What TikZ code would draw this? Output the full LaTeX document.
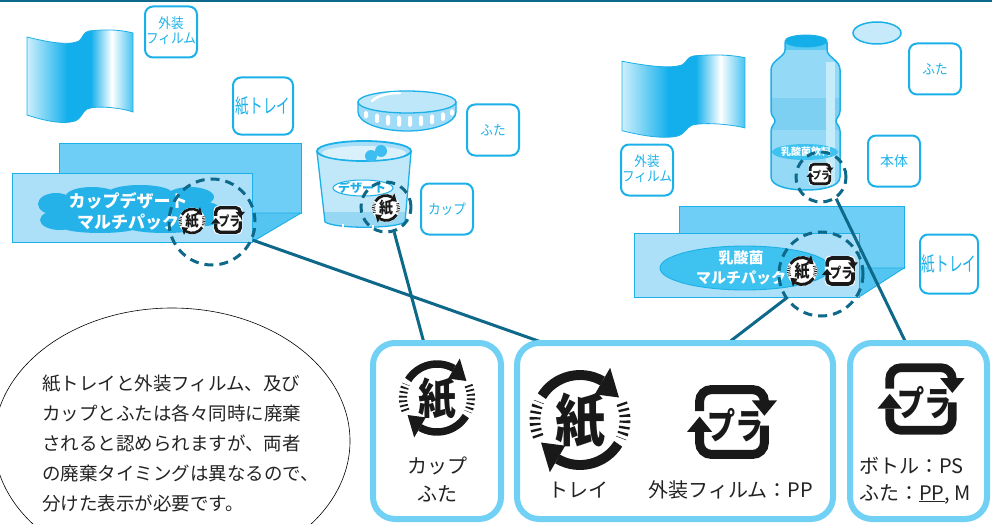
\documentclass[tikz,border=0pt]{standalone}
\usepackage{fontspec}
\usepackage{graphicx}
\setmainfont{Noto Sans CJK JP}
\usetikzlibrary{shapes.geometric}

\definecolor{lineteal}{RGB}{14,104,138}
\definecolor{labcyan}{RGB}{28,176,232}
\definecolor{boxcyan}{RGB}{112,209,245}
\definecolor{trayback}{RGB}{110,206,245}
\definecolor{trayfront}{RGB}{172,224,248}
\definecolor{trayside}{RGB}{84,197,241}
\definecolor{cloudcyan}{RGB}{36,178,233}
\definecolor{ovalcyan}{RGB}{62,194,240}
\definecolor{ovalpale}{RGB}{198,234,250}
\definecolor{filmlight}{RGB}{205,239,252}
\definecolor{filmcyan}{RGB}{18,175,236}
\definecolor{filmend}{RGB}{70,195,241}
\definecolor{cupfill}{RGB}{192,232,249}
\definecolor{cupdark}{RGB}{150,215,244}
\definecolor{cuprim}{RGB}{168,222,247}
\definecolor{cupinner}{RGB}{218,241,252}
\definecolor{ballcyan}{RGB}{62,190,240}
\definecolor{lidtop}{RGB}{190,231,249}
\definecolor{lidband}{RGB}{160,220,247}
\definecolor{bottlefill}{RGB}{148,217,246}
\definecolor{bottleband}{RGB}{126,208,243}
\definecolor{bottlelight}{RGB}{196,236,251}
\definecolor{capcyan}{RGB}{90,202,243}
\definecolor{captop}{RGB}{20,174,233}
\definecolor{ink}{RGB}{25,25,25}
\definecolor{textgray}{RGB}{35,35,35}

\pgfdeclarehorizontalshading{filmshade}{100bp}{color(0bp)=(filmlight); color(25bp)=(filmlight); color(44bp)=(filmcyan); color(55bp)=(filmcyan); color(65bp)=(white); color(75bp)=(filmend); color(100bp)=(filmend)}

% paper recycling mark: centre x, centre y (page pixels, y downwards), scale, name
\newcommand\kamimark[4]{%
  \begin{scope}[transform canvas={shift={(#1pt,-#2pt)},scale=#3},y={(0pt,1pt)}]
    \fill[white] (0,0) circle[radius=56];
    \draw[ink, line width=11pt] (148:50) arc[start angle=148, end angle=60, radius=50];
    \fill[ink] (60:33) -- (60:67) -- (30:50) -- cycle;
    \draw[ink, line width=11pt] (328:50) arc[start angle=328, end angle=240, radius=50];
    \fill[ink] (240:33) -- (240:67) -- (210:50) -- cycle;
    \draw[ink, line width=12pt, dash pattern=on 2.6pt off 4pt] (22:50) arc[start angle=22, end angle=-24, radius=50];
    \draw[ink, line width=12pt, dash pattern=on 2.6pt off 4pt] (202:50) arc[start angle=202, end angle=156, radius=50];
    \node[text=ink, font=\fontsize{63}{63}\selectfont\bfseries, inner sep=0pt] (#4) at (0,-1) {\scalebox{0.88}[1]{紙}};
  \end{scope}}

% plastic recycling mark: centre x, centre y (page pixels, y downwards), scale, name
\newcommand\plamark[4]{%
  \begin{scope}[transform canvas={shift={(#1pt,-#2pt)},scale=#3},y={(0pt,1pt)}]
    \fill[white, rounded corners=12pt] (-42,-42) rectangle (42,42);
    \draw[ink, line width=10pt, rounded corners=13pt] (-36,12) -- (-36,36) -- (36,36) -- (36,24);
    \fill[ink] (22,24) -- (50,24) -- (36,7) -- cycle;
    \draw[ink, line width=10pt, rounded corners=13pt] (36,-4) -- (36,-36) -- (-36,-36) -- (-36,-11);
    \fill[ink] (-50,-11) -- (-22,-11) -- (-36,6) -- cycle;
    \node[text=ink, font=\fontsize{40}{40}\selectfont\bfseries, inner sep=0pt] (#4) at (4,-4) {\scalebox{0.78}[1]{プラ}};
  \end{scope}}

% wrapping film sheet: left x, top y, x scale, y scale
\newcommand\filmsheet[4]{%
  \begin{scope}[shift={(#1,#2)}, xscale=#3, yscale=#4]
    \shadedraw[shading=filmshade, draw=labcyan, line width=0.8pt]
      (0,7) .. controls (20,12) and (42,16) .. (52,11)
      .. controls (56,8) and (56,2) .. (62,1)
      .. controls (80,-1) and (95,0) .. (106,3) -- (106,82)
      .. controls (95,78) and (70,75) .. (60,79)
      .. controls (55,82) and (55,88) .. (48,91)
      .. controls (35,95) and (15,90) .. (0,85) -- cycle;
  \end{scope}}

\begin{document}
\begin{tikzpicture}[x=1pt,y=-1pt,
  labelbox/.style={draw=labcyan, line width=2pt, rounded corners=8pt, fill=white, text=labcyan,
    minimum width=52pt, minimum height=51pt, inner sep=0pt, font=\fontsize{14}{15}\selectfont},
  bigbox/.style={draw=boxcyan, line width=6pt, rounded corners=22pt, fill=white, inner sep=0pt},
  ring/.style={circle, draw=lineteal, line width=3pt, dash pattern=on 9pt off 6pt, inner sep=0pt},
  link/.style={draw=lineteal, line width=3pt},
  outline/.style={draw=labcyan, line width=0.9pt},
  bodytext/.style={text=textgray, font=\fontsize{20}{26}\selectfont, inner sep=0pt},
  notetext/.style={text=textgray, font=\fontsize{18.5}{30}\selectfont, inner sep=0pt, anchor=base west},
  packtext/.style={text=white, font=\fontsize{17}{21}\selectfont\bfseries, align=center, inner sep=0pt}
]
\useasboundingbox (0,0) rectangle (992,524);

% rule along the top edge
\draw[lineteal, line width=2.5pt] (0,1.2) -- (992,1.2);

% ---------- films ----------
\filmsheet{27}{30}{1}{1}
\filmsheet{622}{55}{1.16}{0.89}

% ---------- part labels ----------
\node[labelbox] (filmL) at (171,32) {\scalebox{0.9}[1]{\begin{tabular}{@{}c@{}}外装\\フィルム\end{tabular}}};
\node[labelbox, minimum width=60pt, minimum height=57pt] (trayL) at (263,106) {\fontsize{20}{20}\selectfont\scalebox{0.68}[1]{紙トレイ}};
\node[labelbox] (lidL) at (493,130) {\scalebox{0.9}[1]{ふた}};
\node[labelbox] (cupL) at (447,209) {\scalebox{0.9}[1]{カップ}};
\node[labelbox] (capR) at (935,69) {\scalebox{0.9}[1]{ふた}};
\node[labelbox] (bodyR) at (894,161) {本体};
\node[labelbox] (filmR) at (647,170) {\scalebox{0.9}[1]{\begin{tabular}{@{}c@{}}外装\\フィルム\end{tabular}}};
\node[labelbox, minimum width=58pt, minimum height=59pt] (trayR) at (949,264) {\fontsize{20}{20}\selectfont\scalebox{0.68}[1]{紙トレイ}};

% ---------- lid ----------
\filldraw[fill=lidband, outline, line width=1.3pt] (358,102) -- (358,112)
  arc[start angle=180, end angle=0, x radius=49, y radius=19] -- (456,102) -- cycle;
\foreach \bx in {366,377,388,399,410,421,432,443,452}{
  \pgfmathsetmacro\ff{sqrt(1-((\bx-407)/49)^2)}
  \pgfmathsetmacro\yt{102+11*\ff+3}
  \pgfmathsetmacro\yb{112+19*\ff-4}
  \fill[white, rounded corners=1.5pt] (\bx-2,\yt) rectangle (\bx+2,\yb);
}
\filldraw[fill=lidtop, outline, line width=1.3pt] (407,102) ellipse[x radius=49, y radius=11];
\draw[white, line width=2.5pt, line cap=round] (372,101) .. controls (378,95) and (390,93) .. (400,93);

% ---------- cup ----------
\begin{scope}
  \clip (317,152) -- (325,222) .. controls (335,229) and (395,229) .. (405,222) -- (411,152) -- cycle;
  \fill[cupfill] (310,140) rectangle (420,235);
  \fill[cupdark] (310,212) rectangle (420,235);
\end{scope}
\draw[outline, line width=1.3pt] (317,152) -- (325,222) .. controls (335,229) and (395,229) .. (405,222) -- (411,152);
\fill[white] (342,224) rectangle (344,229);
\fill[white] (372,225) rectangle (374,230);
\filldraw[fill=cuprim, outline, line width=1.8pt] (364,151) ellipse[x radius=47, y radius=10];
\fill[cupinner] (364,153) ellipse[x radius=42, y radius=7];
\fill[ballcyan] (371,156) circle[radius=6];
\fill[ballcyan] (381,151) circle[radius=6];
\node[ellipse, draw=labcyan, line width=1pt, fill=white, minimum width=60pt, minimum height=16pt, inner sep=0pt] (cupTag) at (363,188) {};
\node[text=labcyan, font=\fontsize{12}{12}\selectfont\bfseries, inner sep=0pt] (cupTagTxt) at (362,188) {デザート};

% ---------- bottle ----------
\begin{scope}
  \clip (785,42) -- (785,50) .. controls (785,57) and (771,60) .. (771,70) -- (771,111)
    .. controls (771,116) and (775,118) .. (775,121) .. controls (775,124) and (771,126) .. (771,131)
    -- (771,177) .. controls (771,186) and (788,190) .. (806,190) .. controls (824,190) and (840,186) .. (840,177)
    -- (840,131) .. controls (840,126) and (836,124) .. (836,121) .. controls (836,118) and (840,116) .. (840,111)
    -- (840,70) .. controls (840,60) and (827,57) .. (827,50) -- (827,42) -- cycle;
  \fill[bottlefill] (760,30) rectangle (850,195);
  \fill[bottleband] (760,98) rectangle (850,130);
  \fill[bottlelight] (826,62) rectangle (835,190);
  \fill[capcyan] (760,30) rectangle (850,50);
\end{scope}
\draw[outline, line width=1.5pt] (785,42) -- (785,50) .. controls (785,57) and (771,60) .. (771,70) -- (771,111)
    .. controls (771,116) and (775,118) .. (775,121) .. controls (775,124) and (771,126) .. (771,131)
    -- (771,177) .. controls (771,186) and (788,190) .. (806,190) .. controls (824,190) and (840,186) .. (840,177)
    -- (840,131) .. controls (840,126) and (836,124) .. (836,121) .. controls (836,118) and (840,116) .. (840,111)
    -- (840,70) .. controls (840,60) and (827,57) .. (827,50) -- (827,42);
\filldraw[fill=captop, outline] (806,41) ellipse[x radius=21, y radius=6];
\node[ellipse, fill=ovalcyan, minimum width=66pt, minimum height=16pt, inner sep=0pt] (bottleTag) at (805,152) {};
\node[text=white, font=\fontsize{10}{10}\selectfont\bfseries, inner sep=0pt] (bottleTagTxt) at (806,152) {乳酸菌飲料};
\node[ellipse, draw=labcyan, line width=1.5pt, fill=ovalpale, minimum width=48pt, minimum height=22pt, inner sep=0pt] (capOval) at (877,33) {};

% ---------- left tray ----------
\filldraw[fill=trayback, outline] (59,143) rectangle (301,213);
\filldraw[fill=trayside, outline] (252,213) -- (301,213) -- (252,242) -- cycle;
\filldraw[fill=trayfront, outline] (12,173) rectangle (252,242);
% wavy cloud behind the product name
\fill[cloudcyan] (130,210) ellipse[x radius=86, y radius=18]
  (56,204) ellipse[x radius=18, y radius=11]
  (60,220) ellipse[x radius=20, y radius=10]
  (92,196) ellipse[x radius=26, y radius=9]
  (140,193) ellipse[x radius=32, y radius=8]
  (190,197) ellipse[x radius=24, y radius=10]
  (205,214) ellipse[x radius=18, y radius=12]
  (100,227) ellipse[x radius=38, y radius=6]
  (165,227) ellipse[x radius=38, y radius=6];
\node[packtext] (packL) at (128,211) {カップデザート\\マルチパック};

% ---------- right tray ----------
\filldraw[fill=trayback, outline] (679,206) rectangle (904,268);
\filldraw[fill=trayside, outline] (859,268) -- (904,268) -- (859,297) -- cycle;
\filldraw[fill=trayfront, outline] (634,233) rectangle (859,297);
\node[ellipse, fill=ovalcyan, draw=labcyan, line width=0.9pt, minimum width=170pt, minimum height=44pt] (ovalR) at (745,268) {};
\node[packtext, font=\fontsize{15}{20}\selectfont\bfseries] (packR) at (741,268) {乳酸菌\\マルチパック};

% ---------- marks on the packages ----------
\kamimark{192}{221}{0.24}{kamiL}
\plamark{228}{220}{0.34}{plaL}
\kamimark{386}{208}{0.25}{kamiCup}
\kamimark{802}{271}{0.27}{kamiR}
\plamark{840}{271}{0.36}{plaR}
\plamark{820}{174}{0.27}{plaB}

\node[ring, minimum size=86pt] (ringL) at (212,222) {};
\node[ring, minimum size=50pt] (ringCup) at (386,207) {};
\node[ring, minimum size=84pt] (ringR) at (821,274) {};
\node[ring, minimum size=50pt] (ringB) at (821,177) {};

% ---------- explanatory note ----------
\node[ellipse, draw=black, line width=0.6pt, minimum width=356pt, minimum height=266pt, inner sep=0pt] (note) at (172,441) {};
\node[notetext] (note1) at (42,390) {紙トレイと外装フィルム、及び};
\node[notetext] (note2) at (42,420) {カップとふたは各々同時に廃棄};
\node[notetext] (note3) at (42,450) {されると認められますが、両者};
\node[notetext] (note4) at (42,480) {の廃棄タイミングは異なるので、};
\node[notetext] (note5) at (42,510) {分けた表示が必要です。};

% ---------- leader lines ----------
\coordinate (topA) at (424,343);
\coordinate (topB1) at (544,343);
\coordinate (topB2) at (728,343);
\coordinate (topC) at (906,343);
\draw[link] (ringL.-24) -- (topB1);
\draw[link] (ringCup.-72) -- (topA);
\draw[link] (ringR.215) -- (topB2);
\draw[link] (ringB.-55) -- (topC);

% ---------- marking panels ----------
\node[bigbox, minimum width=128pt, minimum height=176pt] (boxA) at (437,431) {};
\node[bigbox, minimum width=316pt, minimum height=176pt] (boxB) at (675,431) {};
\node[bigbox, minimum width=137pt, minimum height=176pt] (boxC) at (918.5,431) {};

\kamimark{437}{398}{0.68}{kamiA}
\node[bodytext] (cupTxt) at (437,466) {カップ};
\node[bodytext] (lidTxt) at (437,494) {ふた};

\kamimark{580}{420}{0.9}{kamiB}
\node[bodytext] (trayTxt) at (578,490) {トレイ};
\plamark{732}{422}{0.9}{plaBig}
\node[bodytext] (filmTxt) at (731,490) {外装フィルム：PP};

\plamark{921}{399}{0.87}{plaC}
\node[bodytext, anchor=west] (bottleTxt) at (859,466) {ボトル：PS};
\node[bodytext, anchor=west] (capTxt) at (859,494) {ふた：\underline{PP}, M};
\end{tikzpicture}
\end{document}
